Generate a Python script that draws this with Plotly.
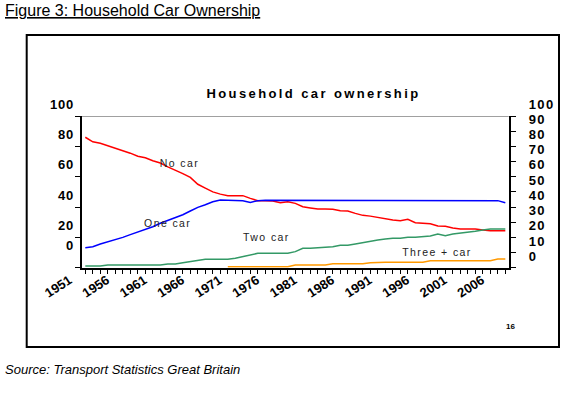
import plotly.graph_objects as go

# ---------------- data ----------------
years = list(range(1951, 2008))
no_car = [86, 83, 82, 80.5, 79, 77, 75.5, 73.5, 72.5, 70.5,
          69, 66.5, 64.5, 62, 59.5, 55, 52.5, 50, 48.5, 47.5,
          47.5, 47.5, 45.7, 44.2, 44.2, 43.9, 42.8, 43.5, 42.4, 40.2,
          39.4, 38.7, 38.7, 38.5, 37.6, 37.4, 35.8, 34.5, 34, 33.2,
          32.1, 31.4, 31, 31.9, 29.7, 29.3, 29, 27.5, 27.3, 26.2,
          25.5, 25.5, 25.5, 24.9, 24.4, 24.4, 24.4]
one_car = [13.2, 13.8, 15.6, 16.9, 18.7, 20, 21.8, 23.5, 24.9, 27,
           29.3, 31, 33.2, 34.9, 37.4, 39.8, 41.5, 43.5, 44.6, 44.6,
           44.6, 44.2, 43, 44.2, 44.4, 44.4, 44.4, 44.6, 44.2, 44.2,
           44.6, 44.2, 44.2, 44.6, 44.6, 44.6, 44.6, 44.4, 44.4, 44.2,
           44.6, 44.6, 44.6, 44.6, 44.6, 44.6, 44.6, 44.2, 44.2, 44.6,
           44.6, 44.2, 44.2, 44.2, 44.2, 44.2, 42.8]
two_car = [1.1, 1.1, 1.1, 1.8, 1.8, 1.8, 1.8, 1.8, 1.8, 1.8,
           1.8, 2.4, 2.4, 3.3, 4, 5.1, 5.5, 5.5, 5.5, 5.5,
           6.2, 7.3, 8.4, 9.5, 9.5, 9.5, 9.5, 9.5, 10.6, 12.8,
           12.8, 13.2, 13.8, 13.8, 14.8, 14.8, 15.6, 16.6, 17.6, 18.3,
           18.9, 19.4, 19.4, 20, 20, 20.4, 20.9, 22.2, 21.1, 22.2,
           22.7, 23.3, 24, 24.9, 25.5, 25.5, 25.5]
three_years = list(range(1970, 2008))
three_car = [0.7] * 9 + [1.8] * 5 + [2.6] * 5 + [3.3] + [3.6] * 7 + [4.6] * 9 + [5.7] * 2

label_years = list(range(1951, 2007, 5))
left_tick_vals = [0, 20, 40, 60, 80, 100]
right_tick_vals = list(range(0, 101, 10))
left_label_text = ["100", "80", "60", "40", "20", "0"]
left_label_pos = [107.9, 88.0, 67.9, 47.8, 27.7, 14.5]
right_label_text = ["100", "90", "80", "70", "60", "50", "40", "30", "20", "10", "0"]
right_label_pos = [107.9, 98.0, 88.0, 78.0, 67.8, 57.8, 47.6, 37.5, 27.7, 17.6, 7.7]

series_labels = [("No car", 1963.6, 69.0), ("One car", 1962.0, 29.3),
                 ("Two car", 1975.1, 20.2), ("Three + car", 1997.9, 10.6)]

# ---------------- layout geometry ----------------
W, H = 565, 393
def fx(px):
    return px / W
def fy(py):
    return 1 - py / H

x_dom = [fx(82), fx(508.7)]
y_dom = [fy(267.7), fy(116)]
ext = 1.15
y_dom_ext = [y_dom[0], y_dom[0] + (y_dom[1] - y_dom[0]) * ext]

FONT = "Arial, Liberation Sans, sans-serif"

fig = go.Figure()
fig.add_trace(go.Scatter(x=years, y=no_car, mode="lines", line=dict(color="#FF0000", width=1.5),
                         name="No car", hoverinfo="skip"))
fig.add_trace(go.Scatter(x=years, y=one_car, mode="lines", line=dict(color="#0000FF", width=1.5),
                         name="One car", hoverinfo="skip"))
fig.add_trace(go.Scatter(x=years, y=two_car, mode="lines", line=dict(color="#339966", width=1.5),
                         name="Two car", hoverinfo="skip"))
fig.add_trace(go.Scatter(x=three_years, y=three_car, mode="lines", line=dict(color="#FF9900", width=1.5),
                         name="Three + car", hoverinfo="skip"))
# carriers for the secondary axes
fig.add_trace(go.Scatter(x=[None], y=[None], yaxis="y2", showlegend=False, hoverinfo="skip"))
fig.add_trace(go.Scatter(x=[None], y=[None], yaxis="y3", showlegend=False, hoverinfo="skip"))
fig.add_trace(go.Scatter(x=[None], y=[None], yaxis="y4", showlegend=False, hoverinfo="skip"))

fig.update_layout(
    width=W, height=H, autosize=False,
    margin=dict(l=0, r=0, t=0, b=0, pad=0),
    paper_bgcolor="white", plot_bgcolor="rgba(0,0,0,0)",
    showlegend=False, hovermode=False,
    xaxis=dict(domain=x_dom, range=[1950.56, 2007.45], anchor="y", automargin=False,
               tickmode="array", tickvals=years,
               ticktext=[str(y) if y in label_years else "" for y in years],
               ticks="outside", ticklen=4, tickwidth=1.2, tickcolor="black",
               tickangle=-33, ticklabelshift=-16, ticklabelstandoff=-6,
               tickfont=dict(family=FONT, size=13, color="black", weight="bold"),
               showline=True, linecolor="black", linewidth=2,
               showgrid=False, zeroline=False),
    yaxis=dict(domain=y_dom, range=[0, 100], anchor="x", automargin=False,
               tickmode="array", tickvals=left_tick_vals, showticklabels=False,
               ticks="outside", ticklen=5, tickwidth=1.2, tickcolor="black",
               showline=True, linecolor="black", linewidth=2,
               showgrid=False, zeroline=False),
    yaxis2=dict(overlaying="y", side="right", range=[0, 100], anchor="x", automargin=False,
                tickmode="array", tickvals=right_tick_vals, showticklabels=False,
                ticks="outside", ticklen=5, tickwidth=1.2, tickcolor="black",
                showline=True, linecolor="black", linewidth=2,
                showgrid=False, zeroline=False),
    yaxis3=dict(domain=y_dom_ext, range=[0, 100 * ext], anchor="free", position=x_dom[0],
                automargin=False,
                side="left", tickmode="array", tickvals=left_label_pos, ticktext=left_label_text,
                ticks="", ticklabelstandoff=8, showline=False, showgrid=False, zeroline=False,
                tickfont=dict(family=FONT, size=13, color="black", weight="bold")),
    yaxis4=dict(domain=y_dom_ext, range=[0, 100 * ext], anchor="free", position=x_dom[1],
                automargin=False,
                side="right", tickmode="array", tickvals=right_label_pos, ticktext=right_label_text,
                ticks="", ticklabelstandoff=19, showline=False, showgrid=False, zeroline=False,
                tickfont=dict(family=FONT, size=13, color="black", weight="bold")),
)

# top border of plot area (gray)
fig.add_shape(type="line", xref="x domain", yref="y", x0=0, x1=1, y0=100, y1=100,
              line=dict(color="#808080", width=1.5))
# outer chart frame
fig.add_shape(type="rect", xref="paper", yref="paper",
              x0=fx(26.7), x1=fx(559), y0=fy(347), y1=fy(35),
              line=dict(color="black", width=2))

# series labels (annotations 0-3)
for txt, xv, yv in series_labels:
    fig.add_annotation(x=xv, y=yv, xref="x", yref="y", text=txt, showarrow=False,
                       xanchor="center", yanchor="middle",
                       font=dict(family=FONT, size=10.5, color="#222222"))

# chart title (annotation 4)
fig.add_annotation(x=fx(313), y=fy(93), xref="paper", yref="paper",
                   xanchor="center", yanchor="middle",
                   text="Household car ownership", showarrow=False,
                   font=dict(family=FONT, size=13, color="black", weight="bold"))
# figure heading
fig.add_annotation(x=fx(3), y=fy(11), xref="paper", yref="paper",
                   xanchor="left", yanchor="middle",
                   text="Figure 3: Household Car Ownership", showarrow=False,
                   font=dict(family=FONT, size=16, color="black", lineposition="under"))
# page number
fig.add_annotation(x=fx(510), y=fy(326), xref="paper", yref="paper",
                   xanchor="center", yanchor="middle",
                   text="16", showarrow=False,
                   font=dict(family=FONT, size=8, color="black", weight="bold"))
# source
fig.add_annotation(x=fx(3), y=fy(369), xref="paper", yref="paper",
                   xanchor="left", yanchor="middle",
                   text="<i>Source: Transport Statistics Great Britain</i>", showarrow=False,
                   font=dict(family=FONT, size=13, color="black"))

post = """
document.body.style.margin = '0';
(function () {
  function spacing() {
    var gd = document.getElementById('{plot_id}');
    if (!gd) return;
    function set(sel, v) {
      gd.querySelectorAll(sel).forEach(function (t) { t.style.letterSpacing = v; });
    }
    for (var i = 0; i < 4; i++) set('.annotation[data-index="' + i + '"] text', '1.4px');
    set('.annotation[data-index="4"] text', '2.4px');
    set('.y3tick text', '0.8px');
    set('.y4tick text', '1.4px');
  }
  spacing();
  setTimeout(spacing, 30);
})();
"""

fig.write_html("out.html", post_script=post, config={"displayModeBar": False})
